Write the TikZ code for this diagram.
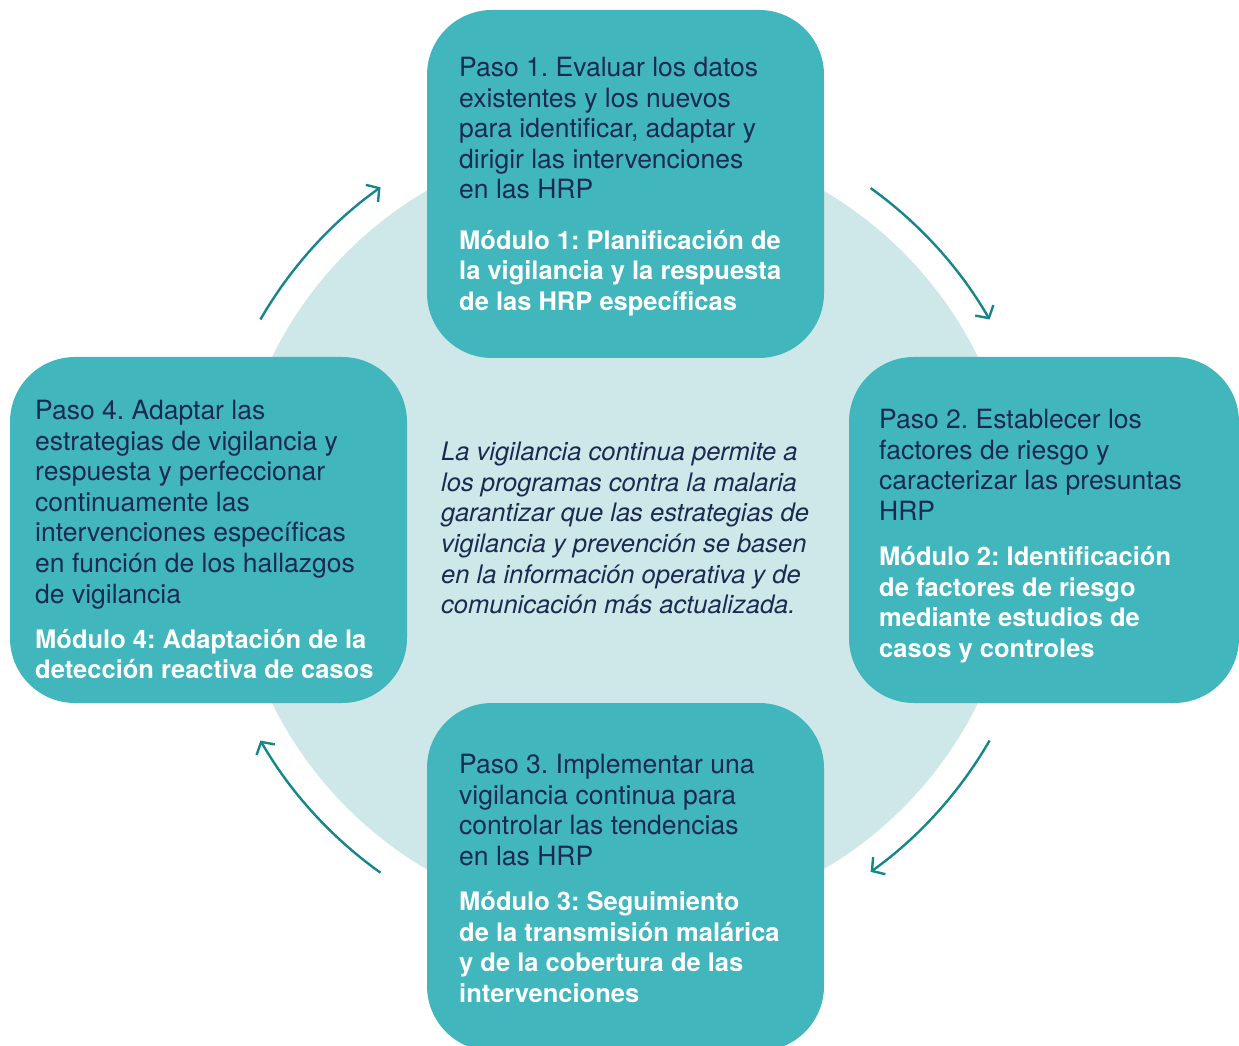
\documentclass[tikz,border=0pt]{standalone}
\usepackage{fontspec}
\setmainfont{TeX Gyre Heros}
\usepackage{tikz}
\usetikzlibrary{arrows.meta,calc}

\definecolor{caja}{HTML}{41B6BC}
\definecolor{fondo}{HTML}{CEE7E8}
\definecolor{texto}{HTML}{1B2A50}
\definecolor{flecha}{HTML}{17868A}
\newcommand{\modulo}[1]{{\fontsize{25.5}{30.6}\selectfont\bfseries\color{white}#1}}

\begin{document}
\frenchspacing
\begin{tikzpicture}[x=1pt,y=1pt,
	bloque/.style={fill=caja,rounded corners=65pt},
	pasotxt/.style={anchor=north west,inner sep=0pt,align=left,text=texto,font=\fontsize{26.5}{30.6}\selectfont},
	giro/.style={draw=flecha,line width=2.4pt,-{Straight Barb[length=9pt,width=21pt]}}]
	\useasboundingbox (0,0) rectangle (1239,1045);
	\coordinate (c) at (625,515);
	\fill[fondo] (c) circle (393);

	\draw[giro] ($(c)+(150:421)$) arc[start angle=150,end angle=125.5,radius=421];
	\draw[giro] ($(c)+(54.3:421)$) arc[start angle=54.3,end angle=30,radius=421];
	\draw[giro] ($(c)+(-30:421)$) arc[start angle=-30,end angle=-54.3,radius=421];
	\draw[giro] ($(c)+(234.5:421)$) arc[start angle=234.5,end angle=210,radius=421];

	\fill[bloque] (427,687) rectangle (824,1035);
	\fill[bloque] (849,342) rectangle (1239,688);
	\fill[bloque] (427,-6) rectangle (824,342);
	\fill[bloque] (10,342) rectangle (407,688);

	\node[pasotxt] (paso1) at (459,988) {Paso 1. Evaluar los datos\\existentes y los nuevos\\para identificar, adaptar y\\dirigir las intervenciones\\en las HRP\\[19.5pt]
		\modulo{Módulo 1: Planificación de}\\\modulo{la vigilancia y la respuesta}\\\modulo{de las HRP específicas}};
	\node[pasotxt] (paso2) at (879,636) {Paso 2. Establecer los\\factores de riesgo y\\caracterizar las presuntas\\HRP\\[14.5pt]
		\modulo{Módulo 2: Identificación}\\\modulo{de factores de riesgo}\\\modulo{mediante estudios de}\\\modulo{casos y controles}};
	\node[pasotxt] (paso3) at (459,291) {Paso 3. Implementar una\\vigilancia continua para\\controlar las tendencias\\en las HRP\\[14.5pt]
		\modulo{Módulo 3: Seguimiento}\\\modulo{de la transmisión malárica}\\\modulo{y de la cobertura de las}\\\modulo{intervenciones}};
	\node[pasotxt] (paso4) at (35,645) {Paso 4. Adaptar las\\estrategias de vigilancia y\\respuesta y perfeccionar\\continuamente las\\intervenciones específicas\\en función de los hallazgos\\de vigilancia\\[14.5pt]
		\modulo{Módulo 4: Adaptación de la}\\\modulo{detección reactiva de casos}};

	\node[pasotxt,font=\fontsize{25.5}{30.6}\selectfont\itshape] (nota) at (441,603) {La vigilancia continua permite a\\los programas contra la malaria\\garantizar que las estrategias de\\vigilancia y prevención se basen\\en la información operativa y de\\comunicación más actualizada.};
\end{tikzpicture}
\end{document}
